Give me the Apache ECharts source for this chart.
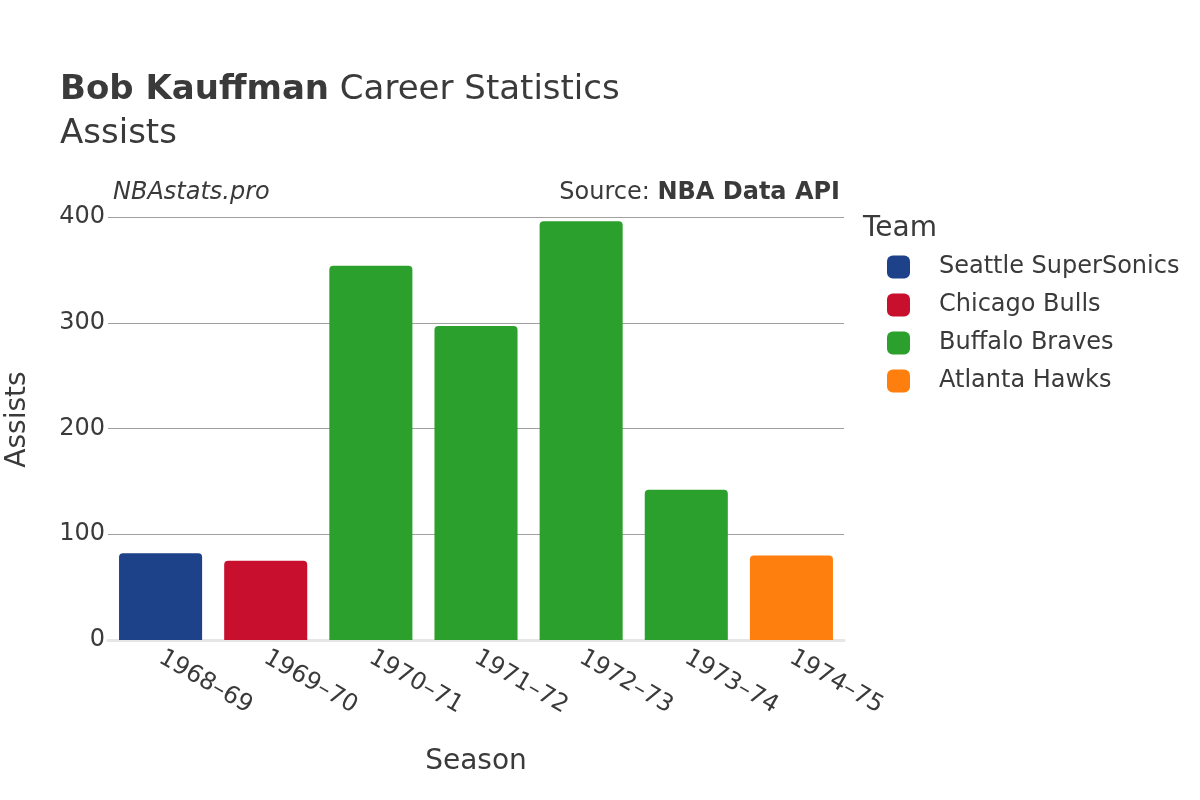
<!DOCTYPE html>
<html>
<head>
<meta charset="utf-8">
<script src="https://cdn.jsdelivr.net/npm/echarts@6/dist/echarts.min.js"></script>
<style>
  html, body { margin: 0; padding: 0; background: #fff; }
  #chart { width: 1200px; height: 800px; }
</style>
</head>
<body>
<div id="chart"></div>
<script>
var seasons = ['1968–69', '1969–70', '1970–71', '1971–72', '1972–73', '1973–74', '1974–75'];
var teams = ['Seattle SuperSonics', 'Chicago Bulls', 'Buffalo Braves', 'Atlanta Hawks'];
var teamColors = ['#1d428a', '#c8102e', '#2ca02c', '#ff7f0e'];
// team of each season
var seasonTeam = ['Seattle SuperSonics', 'Chicago Bulls', 'Buffalo Braves', 'Buffalo Braves', 'Buffalo Braves', 'Buffalo Braves', 'Atlanta Hawks'];
var assists = [82, 75, 354, 297, 396, 142, 80];
var yMax = 417; // axis range top, a bit above the highest bar

var font = 'DejaVu Sans';
var textColor = '#3a3a3a';

var chart = echarts.init(document.getElementById('chart'));

// one series per team, stacked so each bar stays centred on its season
var series = [];
for (var t = 0; t < teams.length; t++) {
  var vals = [];
  for (var i = 0; i < seasons.length; i++) {
    vals.push(seasonTeam[i] == teams[t] ? assists[i] : null);
  }
  series.push({
    name: teams[t],
    type: 'bar',
    stack: 'all',
    barCategoryGap: '21%',
    itemStyle: { color: teamColors[t], borderRadius: [4, 4, 0, 0] },
    data: vals
  });
}

var option = {
  backgroundColor: '#fff',
  animation: false,
  textStyle: { fontFamily: font, color: textColor },
  title: [
    {
      text: '{b|Bob Kauffman} Career Statistics',
      left: 60, top: 73, padding: 0,
      textStyle: {
        fontFamily: font, fontSize: 34, fontWeight: 'normal', color: textColor,
        rich: { b: { fontFamily: font, fontSize: 34, fontWeight: 'bold', color: textColor } }
      }
    },
    {
      text: 'Assists',
      left: 60, top: 117, padding: 0,
      textStyle: { fontFamily: font, fontSize: 34, fontWeight: 'normal', color: textColor }
    },
    {
      text: 'NBAstats.pro',
      left: 113, top: 181, padding: 0,
      textStyle: { fontFamily: font, fontSize: 24, fontStyle: 'italic', fontWeight: 'normal', color: textColor }
    },
    {
      text: 'Source: {b|NBA Data API}',
      right: 360, top: 181, padding: 0,
      textStyle: {
        fontFamily: font, fontSize: 24, fontWeight: 'normal', color: textColor,
        rich: { b: { fontFamily: font, fontSize: 24, fontWeight: 'bold', color: textColor } }
      }
    },
    {
      text: 'Team',
      left: 863, top: 215, padding: 0,
      textStyle: { fontFamily: font, fontSize: 28, fontWeight: 'normal', color: textColor }
    }
  ],
  legend: {
    orient: 'vertical',
    left: 882, top: 250,
    itemWidth: 23, itemHeight: 23,
    itemGap: 14,
    icon: 'roundRect',
    textStyle: { fontFamily: font, fontSize: 24, color: textColor, padding: [0, 0, 0, 24] },
    data: teams
  },
  grid: {
    left: 108, right: 356, top: 640 - 423 * yMax / 400, bottom: 160,
    containLabel: false,
    outerBoundsMode: 'none'
  },
  xAxis: {
    type: 'category',
    data: seasons,
    name: 'Season',
    nameLocation: 'middle',
    nameGap: 108,
    nameTextStyle: { fontFamily: font, fontSize: 28, color: textColor },
    axisLine: { show: true, lineStyle: { color: '#e6e6e6', width: 3 } },
    axisTick: { show: false },
    axisLabel: { rotate: -30, fontFamily: font, fontSize: 24, color: textColor, margin: 16 }
  },
  yAxis: {
    type: 'value',
    min: 0,
    max: yMax,
    interval: 100,
    name: 'Assists',
    nameLocation: 'middle',
    nameRotate: 90,
    nameGap: 76,
    nameTextStyle: { fontFamily: font, fontSize: 28, color: textColor },
    axisLine: { show: false },
    axisTick: { show: false },
    axisLabel: { fontFamily: font, fontSize: 24, color: textColor, margin: 3, showMaxLabel: false },
    splitLine: { showMaxLine: false, lineStyle: { color: '#a0a0a0', width: 1 } }
  },
  series: series
};

chart.setOption(option);
</script>
</body>
</html>
